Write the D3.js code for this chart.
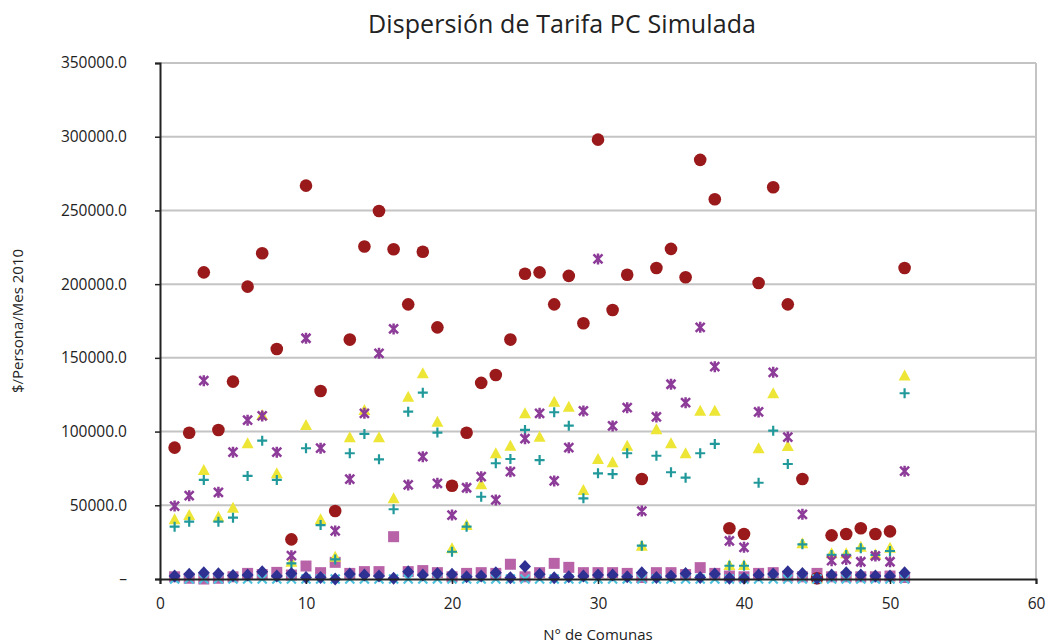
<!DOCTYPE html>
<html>
<head>
<meta charset="utf-8">
<script src="https://cdn.jsdelivr.net/npm/d3@7"></script>
<style>
  body { margin: 0; background: #fff; }
  text { font-family: "Open Sans", "Noto Sans", sans-serif; fill: #222; }
</style>
</head>
<body>
<div id="chart"></div>
<script>
// Comunas 1..51
const comunas = d3.range(1, 52);

// Series ($/Persona/Mes 2010)
const circulo = [89100, 99250, 208000, 101100, 133900, 198300, 221000, 156000, 26900, 266800,
  127500, 46100, 162400, 225500, 249600, 223700, 186300, 222000, 170700, 63300,
  99250, 133000, 138400, 162400, 207100, 208000, 186300, 205600, 173500, 298000,
  182500, 206400, 67800, 211000, 223900, 204700, 284300, 257600, 34400, 30500,
  200800, 265700, 186300, 67800, 500, 29600, 30500, 34400, 30500, 32300, 211000];
const estrella = [49500, 56500, 134500, 58800, 86000, 107700, 110600, 86000, 15800, 163300,
  88700, 32600, 67700, 112400, 153100, 169600, 63800, 83000, 64900, 43400,
  61900, 69400, 53600, 72800, 95200, 112400, 66500, 89100, 114000, 217100,
  103800, 116200, 46100, 109900, 132100, 119600, 170700, 144000, 25800, 21500,
  113300, 140200, 96300, 43900, 500, 12400, 13300, 11700, 15600, 11700, 73100];
const triangulo = [40500, 43400, 73900, 42300, 48400, 92000, 111300, 71700, 11700, 104500,
  40500, 15100, 96100, 114700, 96100, 54700, 123700, 139500, 106700, 20800,
  36600, 64200, 85300, 90400, 112400, 96500, 120300, 116900, 60400, 81400,
  79200, 90400, 22600, 101500, 92000, 85300, 114200, 114200, 9500, 9500,
  88700, 126000, 90200, 24200, 500, 17400, 17400, 21900, 16800, 21200, 138000];
const cruz = [35500, 38900, 67200, 38900, 41600, 69900, 93800, 67200, 10600, 88700,
  36600, 13300, 85300, 98400, 81200, 47300, 113500, 126400, 99300, 18500,
  35500, 55800, 78500, 81400, 101100, 80700, 113100, 104000, 54700, 71700,
  71200, 85300, 22600, 83600, 72400, 68700, 85300, 91600, 9000, 9000,
  65300, 100600, 78000, 23500, 500, 16300, 16300, 20800, 16300, 19000, 126000];
const cuadrado = [1500, 500, 0, 500, 1500, 3800, 3000, 4500, 2700, 8800,
  4300, 11300, 3800, 5000, 5000, 28700, 5000, 5700, 4300, 1500,
  3800, 4300, 3800, 10000, 1500, 4300, 10600, 7900, 4300, 4300,
  4300, 3800, 1000, 4300, 4300, 3000, 7700, 3800, 2000, 1500,
  3800, 4300, 2000, 1500, 3800, 1500, 1500, 1500, 1500, 2000, 1000];
const rombo = [2000, 3200, 4300, 3600, 2400, 2700, 5000, 2000, 3800, 1100,
  1100, 0, 3400, 2700, 2000, 500, 5000, 2700, 3800, 3200,
  1500, 2000, 4300, 900, 8400, 3200, 900, 1500, 2000, 2700,
  2700, 1500, 4300, 1100, 2000, 3800, 1100, 3400, 500, 500,
  2700, 3400, 5000, 3800, 500, 2700, 4300, 2700, 2000, 2000, 4300];
const equis = comunas.map(() => 0);

const yTicks = [0, 50000, 100000, 150000, 200000, 250000, 300000, 350000];
const xTicks = [0, 10, 20, 30, 40, 50, 60];

const W = 1046, H = 644;
const margin = { top: 63, right: 10, bottom: 65, left: 160 },
    width = W - margin.left - margin.right,
    height = H - margin.top - margin.bottom;

const svg = d3.select("#chart").append("svg")
    .attr("width", W)
    .attr("height", H);

const g = svg.append("g")
    .attr("transform", `translate(${margin.left},${margin.top})`);

const x = d3.scaleLinear().domain([0, 60]).range([0, width]);
const y = d3.scaleLinear().domain([0, 350000]).range([height, 0]);

// gridlines
g.selectAll(".grid")
    .data(yTicks.filter(d => d > 0))
    .enter().append("line")
    .attr("x1", 0).attr("x2", width)
    .attr("y1", d => y(d)).attr("y2", d => y(d))
    .attr("stroke", "#c4c4c4")
    .attr("stroke-width", 2);

// right border of plot area
g.append("line")
    .attr("x1", width).attr("x2", width)
    .attr("y1", 0).attr("y2", height)
    .attr("stroke", "#c4c4c4")
    .attr("stroke-width", 2);

// series, bottom to top
function draw(values, fn) {
    const sel = g.append("g").selectAll(null)
        .data(comunas.map((c, i) => ({ c, v: values[i] })))
        .enter().append("g")
        .attr("transform", d => `translate(${x(d.c)},${y(d.v)})`);
    fn(sel);
}

draw(cuadrado, s => s.append("rect")
    .attr("x", -5.5).attr("y", -5.5).attr("width", 11).attr("height", 11)
    .attr("fill", "#b863a8"));

draw(triangulo, s => s.append("path")
    .attr("d", "M0,-6L6,5H-6Z")
    .attr("fill", "#ede636"));

draw(cruz, s => s.append("path")
    .attr("d", "M-5,0H5M0,-5V5")
    .attr("stroke", "#21999b").attr("stroke-width", 2.2).attr("fill", "none"));

draw(estrella, s => s.append("path")
    .attr("d", "M-4.5,-4.5L4.5,4.5M-4.5,4.5L4.5,-4.5M0,-5.5V-2M0,2V5.5")
    .attr("stroke", "#8c3b98").attr("stroke-width", 2.5).attr("fill", "none"));

draw(circulo, s => s.append("circle")
    .attr("r", 6.3)
    .attr("fill", "#9a1a1c"));

draw(equis, s => s.append("path")
    .attr("d", "M-4.5,-4.5L4.5,4.5M-4.5,4.5L4.5,-4.5")
    .attr("stroke", "#4cc2dc").attr("stroke-width", 2.2).attr("fill", "none"));

draw(rombo, s => s.append("path")
    .attr("d", "M0,-6.5L6,0L0,6.5L-6,0Z")
    .attr("fill", "#2e3192"));

// axes
const yAxis = g.append("g")
    .call(d3.axisLeft(y)
        .tickValues(yTicks)
        .tickSize(5)
        .tickPadding(28)
        .tickFormat(d => d === 0 ? "–" : d3.format(".1f")(d)));
yAxis.select(".domain").attr("stroke", "#222").attr("stroke-width", 2);
yAxis.selectAll(".tick line").attr("stroke", "#222").attr("stroke-width", 1.5);
yAxis.selectAll("text").style("font-size", "15.5px").attr("fill", "#222");

const xAxis = g.append("g")
    .attr("transform", `translate(0,${height})`)
    .call(d3.axisBottom(x)
        .tickValues(xTicks)
        .tickSize(5)
        .tickPadding(14));
xAxis.select(".domain").attr("stroke", "#222").attr("stroke-width", 2);
xAxis.selectAll(".tick line").attr("stroke", "#222").attr("stroke-width", 1.5);
xAxis.selectAll("text").style("font-size", "15.5px").attr("fill", "#222");

// titles
svg.append("text")
    .attr("x", 562)
    .attr("y", 33)
    .attr("text-anchor", "middle")
    .attr("textLength", 388)
    .style("font-size", "25px")
    .text("Dispersión de Tarifa PC Simulada");

svg.append("text")
    .attr("x", 598)
    .attr("y", 640)
    .attr("text-anchor", "middle")
    .style("font-size", "15px")
    .text("N° de Comunas");

svg.append("text")
    .attr("transform", "rotate(-90)")
    .attr("x", -321)
    .attr("y", 23)
    .attr("text-anchor", "middle")
    .style("font-size", "15px")
    .text("$/Persona/Mes 2010");
</script>
</body>
</html>
